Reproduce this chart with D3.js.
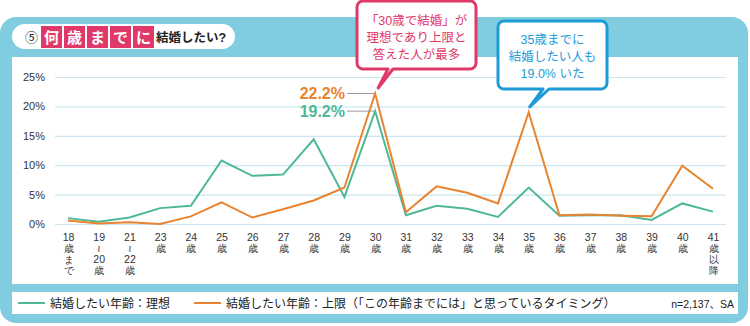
<!DOCTYPE html>
<html>
<head>
<meta charset="utf-8">
<script src="https://cdn.jsdelivr.net/npm/d3@7"></script>
<style>
  body { margin: 0; background: #fff; }
  svg { display: block; font-family: "Liberation Sans", "Noto Sans CJK JP", sans-serif; }
</style>
</head>
<body>
<div id="chart"></div>
<script>
// categories (x axis) and the stacked lines of each tick label
var categories = ["18", "19-20", "21-22", "23", "24", "25", "26", "27", "28", "29", "30",
  "31", "32", "33", "34", "35", "36", "37", "38", "39", "40", "41"];
var tickLabels = [
  ["18", "歳", "ま", "で"], ["19", "≀", "20", "歳"], ["21", "≀", "22", "歳"],
  ["23", "歳"], ["24", "歳"], ["25", "歳"], ["26", "歳"], ["27", "歳"], ["28", "歳"],
  ["29", "歳"], ["30", "歳"], ["31", "歳"], ["32", "歳"], ["33", "歳"], ["34", "歳"],
  ["35", "歳"], ["36", "歳"], ["37", "歳"], ["38", "歳"], ["39", "歳"], ["40", "歳"],
  ["41", "歳", "以", "降"]
];
// series values (%)
var idealValues = [1.0, 0.4, 1.1, 2.7, 3.1, 10.8, 8.2, 8.4, 14.4, 4.6, 19.2,
  1.5, 3.1, 2.6, 1.2, 6.2, 1.4, 1.5, 1.5, 0.7, 3.5, 2.1];
var limitValues = [0.6, 0.1, 0.3, 0.0, 1.3, 3.7, 1.1, 2.5, 4.0, 6.2, 22.2,
  2.0, 6.4, 5.3, 3.5, 19.0, 1.5, 1.6, 1.4, 1.3, 9.9, 6.0];
var yTicks = [0, 5, 10, 15, 20, 25];
var seriesNames = ["結婚したい年齢：理想", "結婚したい年齢：上限（「この年齢までには」と思っているタイミング）"];

var svgWidth = 750;
var svgHeight = 326;

var green = "#4fb897";
var orange = "#e8832f";
var frameBlue = "#80cce1";
var pink = "#e1386a";
var calloutBlue = "#1d9bd7";

var svg = d3.select("#chart")
  .append("svg")
  .attr("width", svgWidth)
  .attr("height", svgHeight);

// ============ frame ============
svg.append("rect")
  .attr("x", 0).attr("y", 17)
  .attr("width", 748).attr("height", 306)
  .attr("rx", 16)
  .attr("fill", frameBlue);

svg.append("rect")
  .attr("x", 12).attr("y", 57)
  .attr("width", 726).attr("height", 227)
  .attr("fill", "#fff");

svg.append("rect")
  .attr("x", 12).attr("y", 292)
  .attr("width", 726).attr("height", 22)
  .attr("fill", "#fff");

// ============ title ============
svg.append("rect")
  .attr("x", 12).attr("y", 24)
  .attr("width", 223).attr("height", 25)
  .attr("rx", 12.5)
  .attr("fill", "#fff");

svg.append("text")
  .attr("x", 25).attr("y", 42)
  .attr("font-size", 13)
  .attr("fill", "#222")
  .text("⑤");

var titleChars = ["何", "歳", "ま", "で", "に"];
titleChars.forEach(function(c, i) {
  var x0 = 41 + i * 23;
  svg.append("rect")
    .attr("x", x0).attr("y", 26)
    .attr("width", 21).attr("height", 22)
    .attr("fill", pink);
  svg.append("text")
    .attr("x", x0 + 10.5).attr("y", 43)
    .attr("text-anchor", "middle")
    .attr("font-size", 15)
    .attr("font-weight", "bold")
    .attr("fill", "#fff")
    .text(c);
});

svg.append("text")
  .attr("x", 156).attr("y", 42)
  .attr("font-size", 12.5)
  .attr("font-weight", "bold")
  .attr("fill", "#222")
  .text("結婚したい?");

// ============ scales & axes ============
var xScale = d3.scalePoint()
  .domain(categories)
  .range([68, 713]);

var yScale = d3.scaleLinear()
  .domain([0, 25])
  .range([224, 77]);

var yAxis = svg.append("g")
  .attr("transform", "translate(55, 0)")
  .call(d3.axisLeft(yScale)
    .tickValues(yTicks)
    .tickSize(-671)
    .tickPadding(10)
    .tickFormat(function(d) { return d + "%"; }));

yAxis.select(".domain").remove();
yAxis.selectAll(".tick line")
  .attr("stroke", "#c9e7f0")
  .attr("stroke-width", 1.2);
yAxis.selectAll(".tick text")
  .attr("font-size", 11)
  .attr("fill", "#333");

var xAxis = svg.append("g")
  .attr("transform", "translate(0, 226)")
  .call(d3.axisBottom(xScale).tickSize(0).tickFormat(""));

xAxis.select(".domain").remove();
xAxis.selectAll(".tick").each(function(d, i) {
  var t = d3.select(this).append("text")
    .attr("text-anchor", "middle")
    .attr("fill", "#333");
  tickLabels[i].forEach(function(line, j) {
    var isNum = /^[0-9]+$/.test(line);
    t.append("tspan")
      .attr("x", 0)
      .attr("y", 15 + j * 11)
      .attr("font-size", isNum ? 10.5 : 9.5)
      .text(line);
  });
});

// ============ lines ============
var line = d3.line()
  .x(function(d, i) { return xScale(categories[i]); })
  .y(function(d) { return yScale(d); });

svg.append("path")
  .datum(idealValues)
  .attr("d", line)
  .attr("fill", "none")
  .attr("stroke", green)
  .attr("stroke-width", 2);

svg.append("path")
  .datum(limitValues)
  .attr("d", line)
  .attr("fill", "none")
  .attr("stroke", orange)
  .attr("stroke-width", 2);

// ============ value labels at 30 ============
var peakX = xScale("30");
[[limitValues[10], orange, 0], [idealValues[10], green, 1]].forEach(function(p) {
  var yy = yScale(p[0]);
  svg.append("line")
    .attr("x1", 347).attr("x2", peakX - 1)
    .attr("y1", yy).attr("y2", yy)
    .attr("stroke", "#999")
    .attr("stroke-width", 1);
  svg.append("text")
    .attr("x", 345).attr("y", yy + 6)
    .attr("text-anchor", "end")
    .attr("font-size", 16)
    .attr("font-weight", "bold")
    .attr("fill", p[1])
    .text(p[0].toFixed(1) + "%");
});

// ============ callouts ============
function callout(x0, y0, w, h, tailA, tailB, tip, color, lines, lineY) {
  var r = 6;
  var p = d3.path();
  p.moveTo(x0 + r, y0);
  p.lineTo(x0 + w - r, y0);
  p.arcTo(x0 + w, y0, x0 + w, y0 + r, r);
  p.lineTo(x0 + w, y0 + h - r);
  p.arcTo(x0 + w, y0 + h, x0 + w - r, y0 + h, r);
  p.lineTo(tailB, y0 + h);
  p.lineTo(tip[0], tip[1]);
  p.lineTo(tailA, y0 + h);
  p.lineTo(x0 + r, y0 + h);
  p.arcTo(x0, y0 + h, x0, y0 + h - r, r);
  p.lineTo(x0, y0 + r);
  p.arcTo(x0, y0, x0 + r, y0, r);
  p.closePath();
  svg.append("path")
    .attr("d", p.toString())
    .attr("fill", "#fff")
    .attr("stroke", color)
    .attr("stroke-width", 3)
    .attr("stroke-linejoin", "round");
  lines.forEach(function(s, i) {
    svg.append("text")
      .attr("x", x0 + w / 2)
      .attr("y", lineY[i])
      .attr("text-anchor", "middle")
      .attr("font-size", 12.5)
      .attr("fill", color)
      .text(s);
  });
}

callout(357, 1, 119, 68, 388, 393, [peakX + 3, 88], pink,
  ["「30歳で結婚」が", "理想であり上限と", "答えた人が最多"], [25, 42, 59]);

callout(498, 21, 109, 68, 543, 549, [xScale("35") + 1, 107], calloutBlue,
  ["35歳までに", "結婚したい人も", "19.0% いた"], [44, 61, 78]);

// ============ legend ============
var legendItems = [
  { x: 18, color: green, name: seriesNames[0] },
  { x: 194, color: orange, name: seriesNames[1] }
];
legendItems.forEach(function(item) {
  svg.append("line")
    .attr("x1", item.x).attr("x2", item.x + 27)
    .attr("y1", 303).attr("y2", 303)
    .attr("stroke", item.color)
    .attr("stroke-width", 2);
  svg.append("text")
    .attr("x", item.x + 32).attr("y", 307.5)
    .attr("font-size", 12)
    .attr("fill", "#222")
    .text(item.name);
});

svg.append("text")
  .attr("x", 734).attr("y", 308)
  .attr("text-anchor", "end")
  .attr("font-size", 10.5)
  .attr("fill", "#222")
  .text("n=2,137、SA");
</script>
</body>
</html>
